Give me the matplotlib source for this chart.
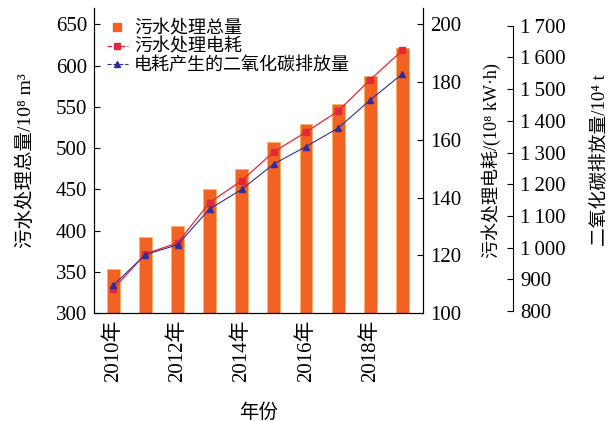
import matplotlib.pyplot as plt
from matplotlib.lines import Line2D
import numpy as np

plt.rcParams['font.family'] = ['Liberation Serif', 'Noto Sans CJK SC']

# 数据
years = [2010, 2011, 2012, 2013, 2014, 2015, 2016, 2017, 2018, 2019]
sewage_total = [353, 392, 405, 450, 475, 507, 529, 553, 588, 621]          # 10^8 m^3
power_use = [108.3, 120.5, 124.3, 138.3, 145.9, 155.9, 162.7, 170.0, 180.9, 191.0]  # 10^8 kW·h
co2_emission = [881, 978, 1009, 1122, 1184, 1264, 1319, 1377, 1466, 1548]  # 10^4 t
xtick_years = [2010, 2012, 2014, 2016, 2018]
co2_ticks = [800, 900, 1000, 1100, 1200, 1300, 1400, 1500, 1600, 1700]

bar_color = '#F26222'
red = '#E0283A'
blue = '#2E2E9A'

fig = plt.figure(figsize=(6.08, 4.21), dpi=100)
ax = fig.add_axes([0.1546, 0.2565, 0.5415, 0.7245])

ax.bar(years, sewage_total, width=0.4, color=bar_color, edgecolor='#F9B36A',
       linewidth=0.6, zorder=2)
ax.set_ylim(300, 670)
ax.set_yticks(np.arange(300, 651, 50))
ax.set_xlim(2009.4, 2019.65)
ax.set_xticks(xtick_years)
ax.set_xticklabels([f'{y}年' for y in xtick_years], rotation=90, fontsize=15)
ax.tick_params(axis='x', length=0, pad=5)
ax.tick_params(axis='y', direction='in', length=4, labelsize=15, pad=5)
ax.set_ylabel('污水处理总量/10⁸ m³', fontsize=14, labelpad=15)
ax.set_xlabel('年份', fontsize=14, labelpad=15)
ax.spines['top'].set_visible(False)

ax2 = ax.twinx()
ax2.plot(years, power_use, color=red, marker='s', markersize=5, linewidth=0.9, zorder=4)
ax2.set_ylim(100, 100 + 370 / 3.5)
ax2.set_yticks(np.arange(100, 201, 20))
ax2.tick_params(axis='y', direction='in', length=4, labelsize=15, pad=5)
ax2.set_ylabel('污水处理电耗/(10⁸ kW·h)', fontsize=13, labelpad=14)
ax2.spines['top'].set_visible(False)

ax3 = ax.twinx()
ax3.spines['right'].set_position(('axes', 1.274))
ax3.spines['right'].set_bounds(800, 1700)
ax3.spines['top'].set_visible(False)
ax3.spines['left'].set_visible(False)
ax3.spines['bottom'].set_visible(False)
ax3.plot(years, co2_emission, color=blue, marker='^', markersize=5, linewidth=0.8, zorder=5)
ax3.set_ylim(793.8, 1756)
ax3.set_yticks(co2_ticks)
ax3.set_yticklabels([f'{v // 1000}\u2009{v % 1000:03d}' if v >= 1000 else str(v) for v in co2_ticks])
ax3.tick_params(axis='y', direction='in', length=4, labelsize=15, pad=5)
ax3.set_ylabel('二氧化碳排放量/10⁴ t', fontsize=13.5, labelpad=18)

# 图例
handles = [
    Line2D([], [], color=bar_color, marker='s', markersize=6, linestyle='none'),
    Line2D([], [], color=red, marker='s', markersize=5, linewidth=0.9, linestyle='--'),
    Line2D([], [], color=blue, marker='^', markersize=5, linewidth=0.8, linestyle='--'),
]
labels = ['污水处理总量', '污水处理电耗', '电耗产生的二氧化碳排放量']
ax3.legend(handles, labels, loc='upper left', bbox_to_anchor=(0.0, 1.0),
           frameon=False, fontsize=13, handlelength=1.2, handletextpad=0.3,
           labelspacing=0.05, borderaxespad=0.3)

fig.savefig('out.png', dpi=100)
